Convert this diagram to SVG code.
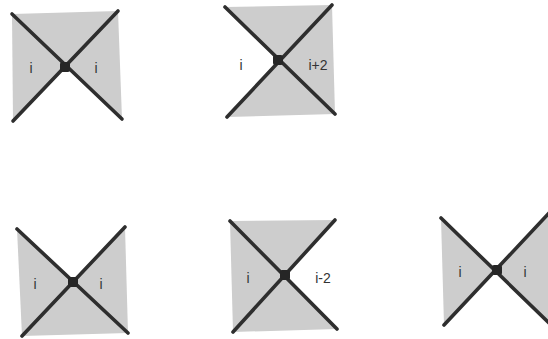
<svg xmlns="http://www.w3.org/2000/svg" width="548" height="339" viewBox="0 0 548 339">
<style>
.sh{fill:#cdcdcd;stroke:none}
.ln{stroke:#2e2e2e;stroke-width:3.6;stroke-linecap:round;fill:none}
.dot{fill:#262626}
.lb{font-family:"Liberation Sans",Arial,sans-serif;font-size:14px;fill:#333;text-anchor:middle}
</style>
<rect width="548" height="339" fill="#fff"/>
<g id="fig1">
<polygon class="sh" points="12,14 118,11 65,67"/>
<polygon class="sh" points="12,14 65,67 13,121"/>
<polygon class="sh" points="118,11 122,119 65,67"/>
<line class="ln" x1="12" y1="14" x2="122" y2="119"/>
<line class="ln" x1="118" y1="11" x2="13" y2="121"/>
<rect class="dot" x="60" y="62" width="10" height="10" rx="2"/>
<text class="lb" x="31" y="73">i</text>
<text class="lb" x="96" y="73">i</text>
</g>
<g id="fig2">
<polygon class="sh" points="225,7 332,5 278,60"/>
<polygon class="sh" points="332,5 335,114 278,60"/>
<polygon class="sh" points="227,117 335,114 278,60"/>
<line class="ln" x1="225" y1="7" x2="335" y2="114"/>
<line class="ln" x1="332" y1="5" x2="227" y2="117"/>
<rect class="dot" x="273" y="55" width="10" height="10" rx="2"/>
<text class="lb" x="241" y="70">i</text>
<text class="lb" x="318" y="70">i+2</text>
</g>
<g id="fig3">
<polygon class="sh" points="17,229 73,282 22,336"/>
<polygon class="sh" points="125,227 128,333 73,282"/>
<polygon class="sh" points="22,336 128,333 73,282"/>
<line class="ln" x1="17" y1="229" x2="128" y2="333"/>
<line class="ln" x1="125" y1="227" x2="22" y2="336"/>
<rect class="dot" x="68" y="277" width="10" height="10" rx="2"/>
<text class="lb" x="35" y="289">i</text>
<text class="lb" x="101" y="289">i</text>
</g>
<g id="fig4">
<polygon class="sh" points="230,221 335,220 285,275"/>
<polygon class="sh" points="230,221 285,275 233,332"/>
<polygon class="sh" points="233,332 337,329 285,275"/>
<line class="ln" x1="230" y1="221" x2="337" y2="329"/>
<line class="ln" x1="335" y1="220" x2="233" y2="332"/>
<rect class="dot" x="280" y="270" width="10" height="10" rx="2"/>
<text class="lb" x="248" y="283">i</text>
<text class="lb" x="323" y="283">i-2</text>
</g>
<g id="fig5">
<polygon class="sh" points="441,218 497,270 444,325"/>
<polygon class="sh" points="548,214 548,322 497,270"/>
<line class="ln" x1="441" y1="218" x2="550" y2="324"/>
<line class="ln" x1="550" y1="212" x2="444" y2="325"/>
<rect class="dot" x="492" y="265" width="10" height="10" rx="2"/>
<text class="lb" x="460" y="277">i</text>
<text class="lb" x="525" y="277">i</text>
</g>
</svg>
